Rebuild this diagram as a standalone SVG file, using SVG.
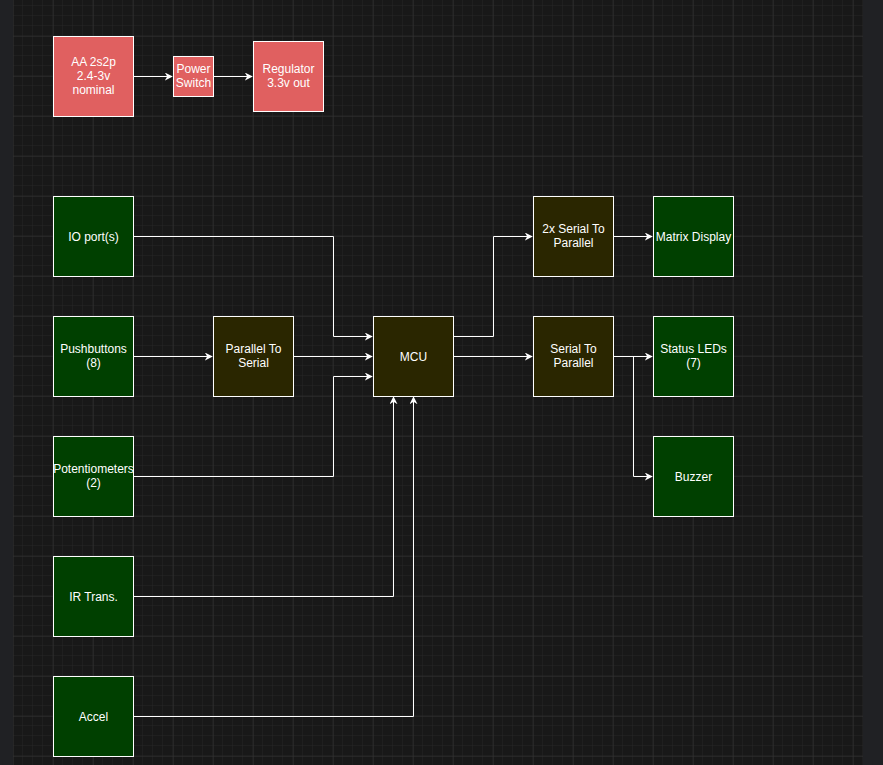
<svg xmlns="http://www.w3.org/2000/svg" width="883" height="765" viewBox="0 0 883 765">
<style>
.r{fill:#e06060;stroke:#fff;stroke-width:1}
.g{fill:#004000;stroke:#fff;stroke-width:1}
.y{fill:#2a2600;stroke:#fff;stroke-width:1}
text{font-family:"Liberation Sans",Arial,sans-serif;font-size:12px;fill:#fff;text-anchor:middle}
.e{fill:none;stroke:#fff;stroke-width:1;marker-end:url(#a)}
</style>
<defs>
<pattern id="mn" width="10" height="10" patternUnits="userSpaceOnUse" x="13" y="36"><path d="M10 0V10M0 10H10" fill="none" stroke="#262626" stroke-width="1"/></pattern>
<pattern id="mj" width="40" height="40" patternUnits="userSpaceOnUse" x="13" y="36"><path d="M0 0V40M0 0H40" fill="none" stroke="#333" stroke-width="1"/></pattern>
<marker id="a" viewBox="0 0 10 10" refX="9" refY="5" markerWidth="8" markerHeight="8" markerUnits="userSpaceOnUse" orient="auto"><path d="M0 0L10 5L0 10L3 5Z" fill="#fff"/></marker>
</defs>
<rect width="883" height="765" fill="#181818"/>
<rect width="883" height="765" fill="url(#mn)"/>
<rect width="883" height="765" fill="url(#mj)"/>
<rect width="13" height="765" fill="#202124"/>
<rect x="863" width="20" height="765" fill="#202124"/>
<g id="connectors">
<path class="e" d="M133.5 76.5H172"/>
<path class="e" d="M213.5 76.5H252"/>
<path class="e" d="M133.5 236.5H333.5V336.5H372"/>
<path class="e" d="M133.5 356.5H212"/>
<path class="e" d="M293.5 356.5H372"/>
<path class="e" d="M133.5 476.5H333.5V376.5H372"/>
<path class="e" d="M133.5 596.5H393.5V397"/>
<path class="e" d="M133.5 716.5H413.5V397"/>
<path class="e" d="M453.5 336.5H493.5V236.5H532"/>
<path class="e" d="M453.5 356.5H532"/>
<path class="e" d="M613.5 236.5H652"/>
<path class="e" d="M613.5 356.5H652"/>
<path class="e" d="M613.5 356.5H633.5V476.5H652"/>
</g>
<g id="aa"><rect class="r" x="53.5" y="36.5" width="80" height="80"/><text x="93.5" y="66">AA 2s2p</text><text x="93.5" y="80">2.4-3v</text><text x="93.5" y="94">nominal</text></g>
<g id="ps"><rect class="r" x="173.5" y="56.5" width="40" height="40"/><text x="193.5" y="73">Power</text><text x="193.5" y="87">Switch</text></g>
<g id="reg"><rect class="r" x="253.5" y="41.5" width="70" height="70"/><text x="288.5" y="73">Regulator</text><text x="288.5" y="87">3.3v out</text></g>
<g id="io"><rect class="g" x="53.5" y="196.5" width="80" height="80"/><text x="93.5" y="241">IO port(s)</text></g>
<g id="pb"><rect class="g" x="53.5" y="316.5" width="80" height="80"/><text x="93.5" y="353">Pushbuttons</text><text x="93.5" y="367">(8)</text></g>
<g id="pot"><rect class="g" x="53.5" y="436.5" width="80" height="80"/><text x="93.5" y="473">Potentiometers</text><text x="93.5" y="487">(2)</text></g>
<g id="ir"><rect class="g" x="53.5" y="556.5" width="80" height="80"/><text x="93.5" y="601">IR Trans.</text></g>
<g id="acc"><rect class="g" x="53.5" y="676.5" width="80" height="80"/><text x="93.5" y="721">Accel</text></g>
<g id="p2s"><rect class="y" x="213.5" y="316.5" width="80" height="80"/><text x="253.5" y="353">Parallel To</text><text x="253.5" y="367">Serial</text></g>
<g id="mcu"><rect class="y" x="373.5" y="316.5" width="80" height="80"/><text x="413.5" y="361">MCU</text></g>
<g id="s2p2"><rect class="y" x="533.5" y="196.5" width="80" height="80"/><text x="573.5" y="233">2x Serial To</text><text x="573.5" y="247">Parallel</text></g>
<g id="s2p"><rect class="y" x="533.5" y="316.5" width="80" height="80"/><text x="573.5" y="353">Serial To</text><text x="573.5" y="367">Parallel</text></g>
<g id="md"><rect class="g" x="653.5" y="196.5" width="80" height="80"/><text x="693.5" y="241">Matrix Display</text></g>
<g id="led"><rect class="g" x="653.5" y="316.5" width="80" height="80"/><text x="693.5" y="353">Status LEDs</text><text x="693.5" y="367">(7)</text></g>
<g id="bz"><rect class="g" x="653.5" y="436.5" width="80" height="80"/><text x="693.5" y="481">Buzzer</text></g>
</svg>
